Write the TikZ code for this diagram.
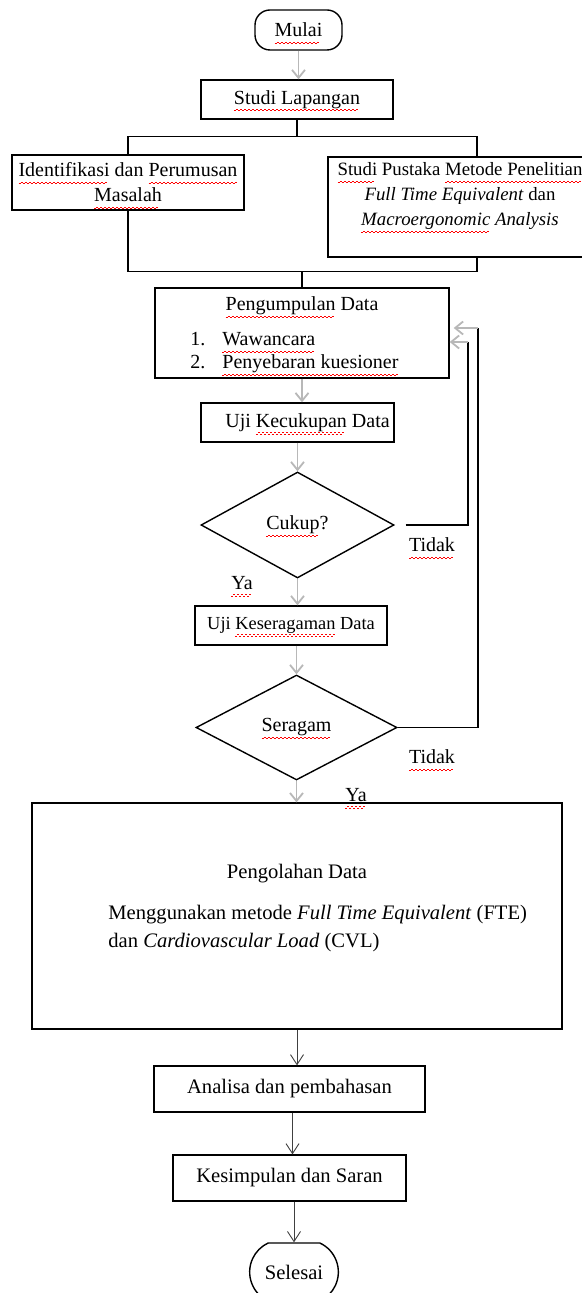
\documentclass[tikz,border=0pt]{standalone}
\usepackage{fontspec}
\setmainfont{Liberation Serif}
\usetikzlibrary{shapes.geometric,shapes.misc,arrows.meta}
\newcommand\salah[1]{\setbox0=\hbox{#1}\rlap{\raisebox{0pt}[0pt][0pt]{\hbox to \wd0{\color{red}%
  \leaders\hbox{\rule[-3.6pt]{1pt}{0.5pt}\rule[-2.9pt]{1pt}{0.5pt}}\hfill}}}\box0\relax}
\tikzset{
  kotak/.style={draw,line width=0.7pt,align=center,inner sep=0pt,font=\fontsize{10}{12.5}\selectfont},
  putus/.style={diamond,draw,line width=0.7pt,inner sep=0pt,font=\fontsize{10}{12}\selectfont},
  ket/.style={inner sep=0pt,font=\fontsize{10}{12}\selectfont},
  garis/.style={line width=0.7pt},
  panahabu/.style={draw=black!28,line width=0.9pt,-{Straight Barb[length=4pt,width=6.5pt]}},
  panah/.style={draw=black!75,line width=0.45pt,-{Straight Barb[length=5pt,width=6.5pt]}}
}
\begin{document}
\begin{tikzpicture}[x=0.5pt,y=-0.5pt]
  \useasboundingbox (0,0) rectangle (582,1293);
  \fill[white] (0,0) rectangle (582,1293);
  \begin{scope}
  \clip (0,0) rectangle (582,1293);
  % bagian atas
  \node[kotak,rounded corners=7.5pt,minimum width=43.5pt,minimum height=20pt] (mulai) at (298.5,30) {\salah{Mulai}};
  \node[kotak,minimum width=96pt,minimum height=19.5pt] (lapangan) at (297,99.5) {\salah{Studi Lapangan}};
  \node[kotak,minimum width=116pt,minimum height=27.5pt] (identifikasi) at (128,182.5)
    {\salah{Identifikasi} dan \salah{Perumusan}\\ \salah{Masalah}};
  \node[kotak,minimum width=132pt,minimum height=50pt,
    label={[ket,align=center,anchor=north,yshift=-3pt,font=\fontsize{9.4}{12.5}\selectfont]north:{\salah{Studi} Pustaka \salah{Metode Penelitian}\\ \textit{Full Time Equivalent} dan\\ \textit{\salah{Macroergonomic} Analysis}}}]
    (pustaka) at (460,207) {};
  \coordinate (pustakaatas) at ([xshift=8.5pt]pustaka.north);
  \coordinate (pustakabawah) at ([xshift=8.5pt]pustaka.south);
  \node[kotak,minimum width=147pt,minimum height=45pt] (pengumpulan) at (302,333) {};
  \node[ket] (judulkumpul) at (302,306) {\salah{Pengumpulan} Data};
  \node[ket,anchor=west,align=left,font=\fontsize{10}{11.5}\selectfont] (daftar) at (190,353)
    {1.\hspace{8.5pt}\salah{Wawancara}\\ 2.\hspace{8.5pt}\salah{Penyebaran kuesioner}};
  \node[kotak,minimum width=96.5pt,minimum height=19.5pt] (ujicukup) at (297.5,422.5) {\hspace*{10pt}Uji \salah{Kecukupan} Data};
  \node[putus,minimum width=96.5pt,minimum height=53pt] (cukup) at (297.5,525) {\salah{Cukup}?};
  \node[kotak,font=\fontsize{9.2}{11}\selectfont,minimum width=96pt,minimum height=19.5pt] (ujiseragam) at (291,625.5) {Uji \salah{Keseragaman} Data};
  \node[putus,minimum width=100.5pt,minimum height=52.5pt] (seragam) at (296.5,727.5) {\salah{Seragam}};
  \node[ket] (tidak1) at (432,545) {\salah{Tidak}};
  \node[ket] (ya1) at (242,583) {\salah{Ya}};
  \node[ket] (tidak2) at (432,757) {\salah{Tidak}};
  \node[ket] (ya2) at (356,795) {\salah{Ya}};
  % bagian bawah
  \node[kotak,line width=0.6pt,minimum width=265pt,minimum height=113pt] (pengolahan) at (297,916) {};
  \node[ket,font=\fontsize{10.3}{14}\selectfont] (judulolah) at (297,874) {Pengolahan Data};
  \node[ket,anchor=west,align=left,font=\fontsize{10.3}{14}\selectfont] (isiolah) at (108,929)
    {Menggunakan metode \textit{Full Time Equivalent} (FTE)\\ dan \textit{Cardiovascular Load} (CVL)};
  \node[kotak,line width=0.6pt,font=\fontsize{10.3}{12}\selectfont,minimum width=135.5pt,minimum height=23pt] (analisa) at (289.5,1089) {Analisa dan pembahasan};
  \node[kotak,line width=0.6pt,font=\fontsize{10.3}{12}\selectfont,minimum width=116.5pt,minimum height=23pt] (kesimpulan) at (289.5,1178) {Kesimpulan dan Saran};
  \node[draw,line width=0.7pt,rounded rectangle,rounded rectangle arc length=130,minimum width=51pt,minimum height=29pt,
    font=\fontsize{10.3}{12}\selectfont] (selesai) at (294,1272) {Selesai};
  % garis penghubung
  \draw[panahabu] (mulai.south) -- (mulai.south |- lapangan.north);
  \draw[garis] (lapangan.south) -- ++(0,17) coordinate (cabang);
  \draw[garis] (identifikasi.north) |- (cabang) -| (pustakaatas);
  \path (pengumpulan.north) ++(0,-16) coordinate (gabung);
  \draw[garis] (identifikasi.south) |- (gabung) -| (pustakabawah);
  \draw[garis] (gabung) -- (pengumpulan.north);
  \draw[panahabu] (pengumpulan.south) -- (pengumpulan.south |- ujicukup.north);
  \draw[panahabu] (ujicukup.south) -- (ujicukup.south |- cukup.north);
  \draw[panahabu] (cukup.south) -- (cukup.south |- ujiseragam.north);
  \draw[panahabu] (seragam.north |- ujiseragam.south) -- (seragam.north);
  \draw[panahabu] (seragam.south) -- (seragam.south |- pengolahan.north);
  \coordinate (balik1) at (468,342);
  \coordinate (balik2) at (478,328);
  \draw[garis] ([xshift=5.5pt]cukup.east) -| (balik1);
  \draw[panahabu] (balik1) -- (pengumpulan.east |- balik1);
  \draw[garis] (seragam.east) -| (balik2);
  \draw[panahabu,shorten >=2pt] (balik2) -- (pengumpulan.east |- balik2);
  \draw[panah] (pengolahan.south) -- (pengolahan.south |- analisa.north);
  \draw[panah] ([xshift=1.5pt]analisa.south) -- ([xshift=1.5pt]kesimpulan.north);
  \draw[panah] (kesimpulan.south -| selesai.north) -- (selesai.north);
  \end{scope}
\end{tikzpicture}
\end{document}
